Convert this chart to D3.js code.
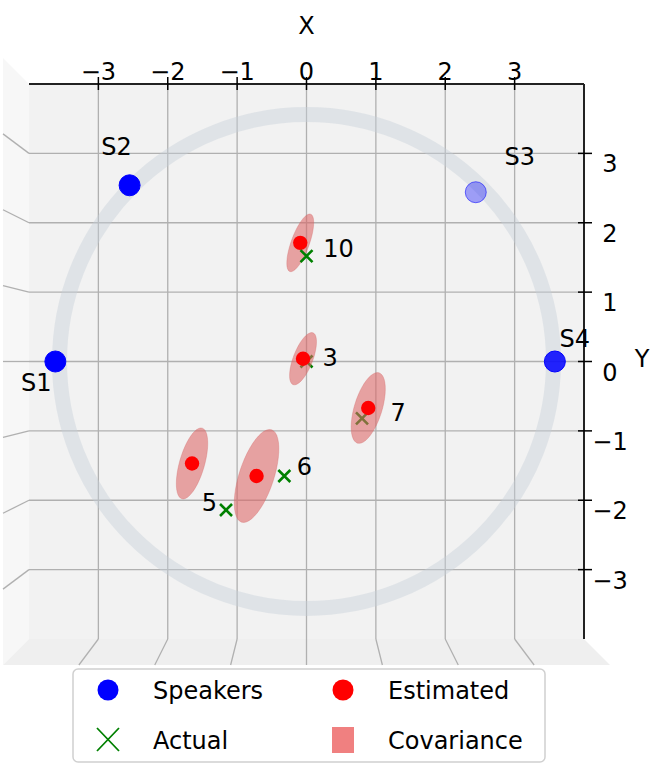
<!DOCTYPE html>
<html>
<head>
<meta charset="utf-8">
<script src="https://cdn.jsdelivr.net/npm/d3@7"></script>
<style>
  body { margin: 0; background: #fff; }
  text { font-family: "DejaVu Sans", sans-serif; font-size: 24px; fill: #000; }
</style>
</head>
<body>
<svg id="chart" width="663" height="768"></svg>
<script>
// speakers on the ring
var speakerNames = ['S1', 'S2', 'S3', 'S4'];
var speakerX = [-3.62, -2.55, 2.44, 3.58];
var speakerY = [0.0, 2.54, 2.44, 0.0];

// estimated positions and their covariance ellipses (semi axes + angle in degrees)
var estX = [-0.09, -0.05, 0.89, -1.65, -0.72];
var estY = [1.71, 0.04, -0.67, -1.47, -1.65];
var covMajor = [0.44, 0.40, 0.53, 0.53, 0.70];
var covMinor = [0.13, 0.14, 0.20, 0.18, 0.25];
var covAngle = [70, 69, 73, 74, 72];

// actual positions with their ids
var actualIds = ['10', '3', '7', '5', '6'];
var actualX = [0.0, 0.0, 0.80, -1.16, -0.32];
var actualY = [1.52, 0.0, -0.82, -2.14, -1.65];
var labelX = [0.24, 0.23, 1.21, -1.51, -0.14];
var labelY = [1.51, -0.07, -0.86, -2.16, -1.63];

var ringRadius = 3.56;
var xTicks = [-3, -2, -1, 0, 1, 2, 3];
var yTicks = [3, 2, 1, 0, -1, -2, -3];

(function () {
  "use strict";
  var svg = d3.select('#chart');
  var left = 29, right = 584, top = 84, bottom = 639;
  var x = d3.scaleLinear().domain([-4, 4]).range([left, right]);
  var y = d3.scaleLinear().domain([-4, 4]).range([bottom, top]);
  var cx = x(0), cy = y(0);
  // outer edge of the side panes (perspective of the 3d box seen from above)
  var k = (cx - 3) / (cx - left);
  function outX(px) { return cx + (px - cx) * k; }
  function outY(py) { return cy + (py - cy) * k; }

  // panes
  svg.append('polygon')
      .attr('points', [[left, top], [outX(left), outY(top)], [outX(left), outY(bottom)], [left, bottom]].join(' '))
      .attr('fill', '#f7f7f7');
  svg.append('polygon')
      .attr('points', [[left, bottom], [right, bottom], [outX(right), outY(bottom)], [outX(left), outY(bottom)]].join(' '))
      .attr('fill', '#efefef');
  svg.append('rect')
      .attr('x', left).attr('y', top)
      .attr('width', right - left).attr('height', bottom - top)
      .attr('fill', '#f2f2f2');

  var grid = svg.append('g').attr('stroke', '#b0b0b0').attr('stroke-width', 1.3);
  xTicks.forEach(function (t) {
    grid.append('line').attr('x1', x(t)).attr('x2', x(t)).attr('y1', top).attr('y2', bottom);
    grid.append('line').attr('x1', x(t)).attr('y1', bottom).attr('x2', outX(x(t))).attr('y2', outY(bottom));
  });
  yTicks.forEach(function (t) {
    grid.append('line').attr('x1', left).attr('x2', right).attr('y1', y(t)).attr('y2', y(t));
    grid.append('line').attr('x1', left).attr('y1', y(t)).attr('x2', outX(left)).attr('y2', outY(y(t)));
  });

  // ring
  svg.append('ellipse')
      .attr('cx', cx).attr('cy', cy)
      .attr('rx', x(ringRadius) - cx).attr('ry', cy - y(ringRadius))
      .attr('fill', 'none')
      .attr('stroke', '#c5d0da').attr('stroke-opacity', 0.42)
      .attr('stroke-width', 15);

  // axis lines, ticks, labels
  svg.append('line').attr('x1', left).attr('x2', right).attr('y1', top).attr('y2', top)
      .attr('stroke', '#222').attr('stroke-width', 2);
  svg.append('line').attr('x1', right).attr('x2', right).attr('y1', top).attr('y2', bottom)
      .attr('stroke', '#222').attr('stroke-width', 2);
  xTicks.forEach(function (t) {
    svg.append('line').attr('x1', x(t)).attr('x2', x(t)).attr('y1', top - 7).attr('y2', top + 6)
        .attr('stroke', '#000').attr('stroke-width', 1.5);
    svg.append('text').attr('x', x(t)).attr('y', top - 4).attr('text-anchor', 'middle')
        .text(d3.format('d')(t).replace('-', '\u2212'));
  });
  yTicks.forEach(function (t) {
    svg.append('line').attr('x1', right - 6).attr('x2', right + 8).attr('y1', y(t)).attr('y2', y(t))
        .attr('stroke', '#000').attr('stroke-width', 1.5);
    svg.append('text').attr('x', 610).attr('y', y(t) + 19).attr('text-anchor', 'middle')
        .text(d3.format('d')(t).replace('-', '\u2212'));
  });
  svg.append('text').attr('x', cx).attr('y', 34).attr('text-anchor', 'middle').text('X');
  svg.append('text').attr('x', 642).attr('y', 367).attr('text-anchor', 'middle').text('Y');

  // covariance ellipses
  var ellipseLine = d3.line().curve(d3.curveLinearClosed);
  function ellipsePoints(i) {
    var a = covAngle[i] * Math.PI / 180, pts = [];
    for (var s = 0; s < 48; s++) {
      var t = s / 48 * 2 * Math.PI;
      var u = covMajor[i] * Math.cos(t), v = covMinor[i] * Math.sin(t);
      pts.push([x(estX[i] + u * Math.cos(a) - v * Math.sin(a)),
                y(estY[i] + u * Math.sin(a) + v * Math.cos(a))]);
    }
    return pts;
  }

  var xMark = function (g, px, py) {
    var r = 6;
    g.append('path')
        .attr('d', 'M' + (px - r) + ',' + (py - r) + 'L' + (px + r) + ',' + (py + r) +
                   'M' + (px - r) + ',' + (py + r) + 'L' + (px + r) + ',' + (py - r))
        .attr('stroke', '#008000').attr('stroke-width', 2.6).attr('fill', 'none');
  };
  // markers that sit behind the ellipses in depth
  var behind = {'3': true, '7': true};
  var back = svg.append('g');
  actualIds.forEach(function (id, i) {
    if (behind[id]) { xMark(back, x(actualX[i]), y(actualY[i])); }
  });

  svg.append('g').selectAll('path')
      .data(d3.range(estX.length))
    .enter().append('path')
      .attr('d', function (i) { return ellipseLine(ellipsePoints(i)); })
      .attr('fill', '#dd6666').attr('fill-opacity', 0.58)
      .attr('stroke', '#d06060').attr('stroke-opacity', 0.3);

  svg.append('g').selectAll('circle')
      .data(d3.range(estX.length))
    .enter().append('circle')
      .attr('cx', function (i) { return x(estX[i]); })
      .attr('cy', function (i) { return y(estY[i]); })
      .attr('r', 7.2)
      .attr('fill', '#ff0000');

  var front = svg.append('g');
  actualIds.forEach(function (id, i) {
    if (!behind[id]) { xMark(front, x(actualX[i]), y(actualY[i])); }
  });

  svg.append('g').selectAll('text')
      .data(actualIds)
    .enter().append('text')
      .attr('x', function (d, i) { return x(labelX[i]); })
      .attr('y', function (d, i) { return y(labelY[i]); })
      .text(function (d) { return d; });

  // speakers
  var shade = {S3: 0.35, S4: 0.85};
  var spk = svg.append('g');
  speakerNames.forEach(function (name, i) {
    spk.append('circle')
        .attr('cx', x(speakerX[i])).attr('cy', y(speakerY[i])).attr('r', 10.5)
        .attr('fill', '#0000ff').attr('fill-opacity', shade[name] || 1)
        .attr('stroke', '#0000ff').attr('stroke-opacity', shade[name] ? Math.min(1, shade[name] + 0.2) : 1)
        .attr('stroke-width', 1);
  });
  var spkLabel = {S1: [-19, 29], S2: [-13, -30], S3: [44, -27], S4: [20, -15]};
  speakerNames.forEach(function (name, i) {
    svg.append('text')
        .attr('x', x(speakerX[i]) + spkLabel[name][0])
        .attr('y', y(speakerY[i]) + spkLabel[name][1])
        .attr('text-anchor', 'middle')
        .text(name);
  });

  // legend
  var lg = svg.append('g');
  lg.append('rect').attr('x', 73).attr('y', 669).attr('width', 472).attr('height', 93).attr('rx', 5)
      .attr('fill', '#fff').attr('fill-opacity', 0.8).attr('stroke', '#d0d0d0').attr('stroke-width', 1.5);
  lg.append('circle').attr('cx', 108).attr('cy', 690).attr('r', 10.5).attr('fill', '#0000ff');
  lg.append('text').attr('x', 153).attr('y', 699).text('Speakers');
  lg.append('circle').attr('cx', 343).attr('cy', 690).attr('r', 10.5).attr('fill', '#ff0000');
  lg.append('text').attr('x', 388).attr('y', 699).text('Estimated');
  lg.append('path').attr('d', 'M97,728L119,751M97,751L119,728')
      .attr('stroke', '#008000').attr('stroke-width', 1.8).attr('fill', 'none');
  lg.append('text').attr('x', 153).attr('y', 749).text('Actual');
  lg.append('rect').attr('x', 332).attr('y', 727).attr('width', 22).attr('height', 26).attr('fill', '#f08080');
  lg.append('text').attr('x', 388).attr('y', 749).text('Covariance');
}());
</script>
</body>
</html>
